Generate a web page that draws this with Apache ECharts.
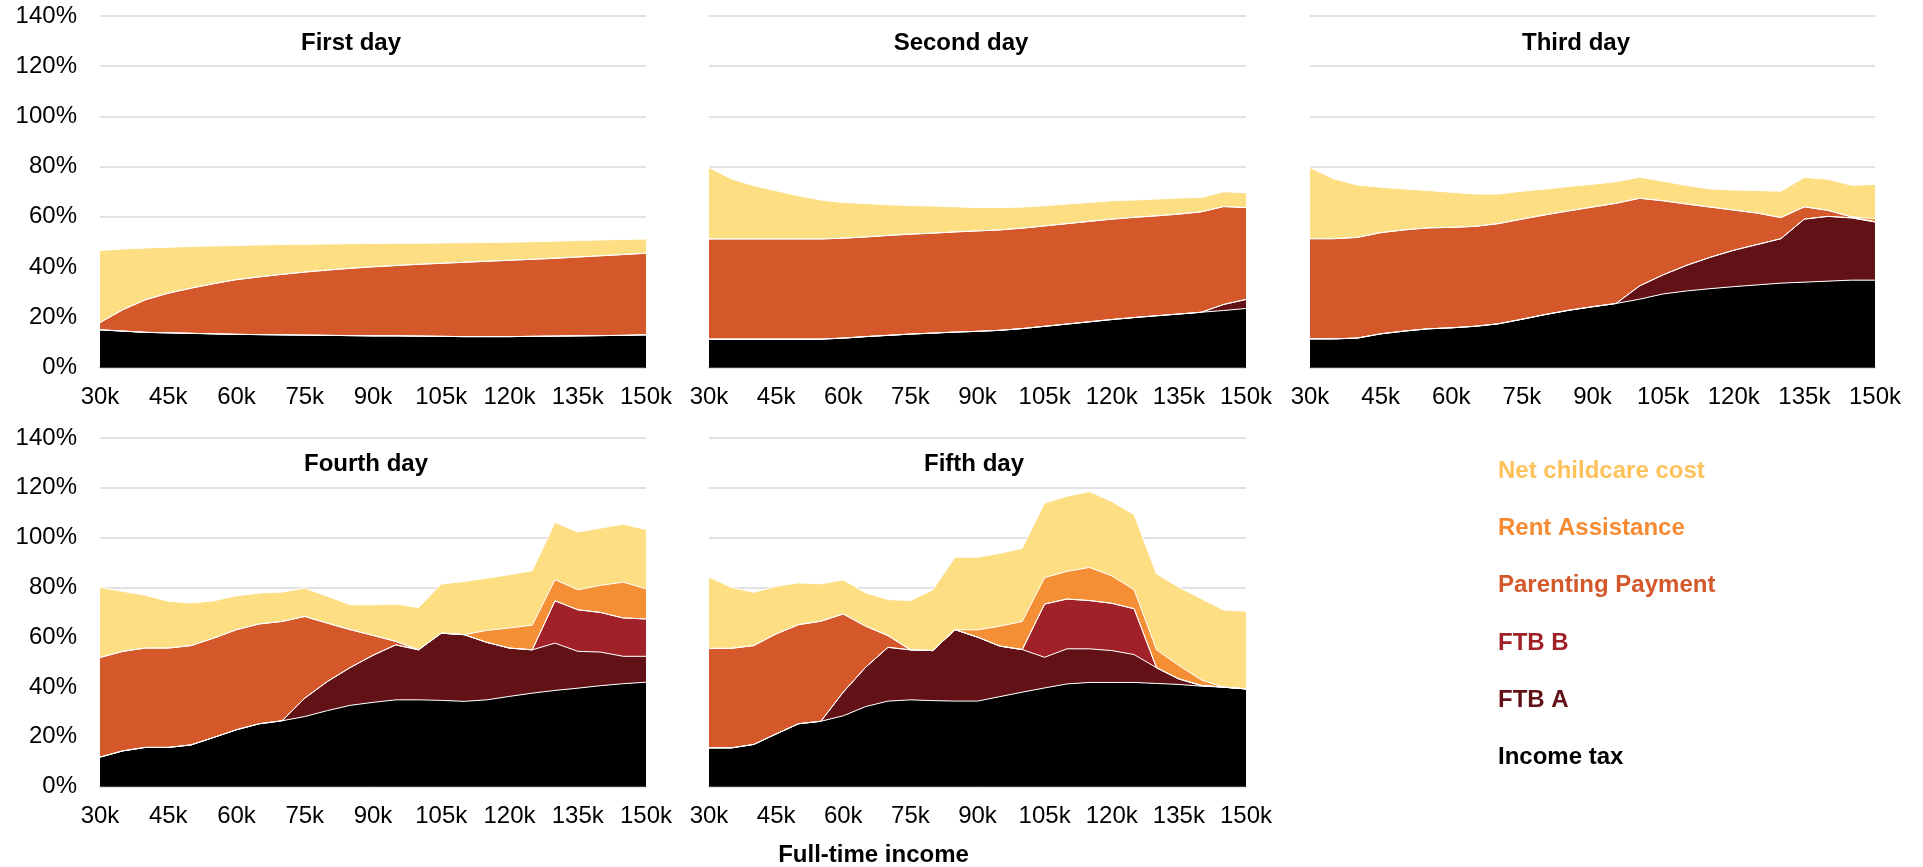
<!DOCTYPE html>
<html>
<head>
<meta charset="utf-8">
<script src="https://cdn.jsdelivr.net/npm/echarts@6/dist/echarts.min.js"></script>
<style>
html,body{margin:0;padding:0;background:#fff;}
#chart{width:1923px;height:867px;}
</style>
</head>
<body>
<div id="chart"></div>
<script>
// ---------- DATA ----------
const incomes = [30,35,40,45,50,55,60,65,70,75,80,85,90,95,100,105,110,115,120,125,130,135,140,145,150];
const panelTitles = ['First day','Second day','Third day','Fourth day','Fifth day'];
const seriesNames = ['Income tax','FTB A','FTB B','Parenting Payment','Rent Assistance','Net childcare cost'];
const legendOrder = ['Net childcare cost','Rent Assistance','Parenting Payment','FTB B','FTB A','Income tax'];
const yMin = 0, yMax = 140, yStep = 20;
const xAxisTitle = 'Full-time income';

// First day
const tax1  = [15,14.5,14,13.8,13.6,13.4,13.2,13.1,13,12.9,12.8,12.7,12.6,12.6,12.5,12.4,12.3,12.3,12.3,12.4,12.5,12.6,12.7,12.8,13];
const ftbA1 = [0,0,0,0,0,0,0,0,0,0,0,0,0,0,0,0,0,0,0,0,0,0,0,0,0];
const ftbB1 = [0,0,0,0,0,0,0,0,0,0,0,0,0,0,0,0,0,0,0,0,0,0,0,0,0];
const pp1   = [2.9,8.5,13,15.8,18,20,21.8,23,24.1,25.1,26,26.8,27.5,28,28.6,29.1,29.6,30,30.4,30.7,31,31.4,31.8,32.2,32.5];
const ra1   = [0,0,0,0,0,0,0,0,0,0,0,0,0,0,0,0,0,0,0,0,0,0,0,0,0];
const care1 = [28.7,24.2,20.6,18.3,16.6,15,13.6,12.7,11.9,11.1,10.4,9.8,9.3,8.9,8.4,8.1,7.8,7.5,7.2,7,6.8,6.6,6.3,6,5.7];

// Second day
const tax2  = [11.3,11.3,11.3,11.3,11.3,11.3,11.7,12.3,12.8,13.3,13.7,14.1,14.4,14.8,15.5,16.4,17.3,18.2,19.1,19.9,20.6,21.3,22,22.7,23.5];
const ftbA2 = [0,0,0,0,0,0,0,0,0,0,0,0,0,0,0,0,0,0,0,0,0,0,0,2.4,3.6];
const ftbB2 = [0,0,0,0,0,0,0,0,0,0,0,0,0,0,0,0,0,0,0,0,0,0,0,0,0];
const pp2   = [39.9,39.9,39.9,39.9,39.9,39.9,39.8,39.7,39.8,39.8,39.8,39.9,40,40,40,40,40,40,40,39.9,39.8,39.8,40,39,36.6];
const ra2   = [0,0,0,0,0,0,0,0,0,0,0,0,0,0,0,0,0,0,0,0,0,0,0,0,0];
const care2 = [28.5,23.9,21.2,19.2,17.2,15.5,14.2,13.3,12.2,11.4,10.8,10,9.3,8.9,8.4,8,7.8,7.5,7.3,6.9,6.7,6.4,5.7,5.9,5.9];

// Third day
const tax3  = [11.4,11.4,11.7,13.4,14.5,15.4,15.8,16.4,17.4,19.2,21.1,22.8,24.2,25.5,27.2,29.3,30.5,31.4,32.2,32.9,33.6,34,34.4,34.8,34.8];
const ftbA3 = [0,0,0,0,0,0,0,0,0,0,0,0,0,0,5.3,7.6,10.2,12.5,14.5,16.1,17.7,25.1,25.8,24.8,23.2];
const ftbB3 = [0,0,0,0,0,0,0,0,0,0,0,0,0,0,0,0,0,0,0,0,0,0,0,0,0];
const pp3   = [39.9,39.9,40.1,40.3,40.3,40.2,40,39.8,39.9,39.9,39.7,39.6,39.7,39.9,34.9,29.5,24.4,20,16,12.5,8.4,4.9,2.4,0.4,0];
const ra3   = [0,0,0,0,0,0,0,0,0,0,0,0,0,0,0,0,0,0,0,0,0,0,0,0,1.3];
const care3 = [28.3,23.9,20.9,18.1,16.3,14.9,14,12.9,11.8,11.1,10.3,9.7,9.1,8.6,8.4,7.8,7.4,7.2,8,9,10.5,11.7,12.4,12.6,13.6];

// Fourth day
const tax4  = [11.8,14.3,15.7,15.7,16.7,19.7,22.8,25.2,26.4,28.1,30.5,32.6,33.8,34.8,34.8,34.6,34.2,34.8,36.2,37.5,38.6,39.5,40.5,41.3,41.9];
const ftbA4 = [0,0,0,0,0,0,0,0,0,7.4,11.7,15.2,18.9,22.1,20.1,27,26.8,23.1,19.4,17.4,19,14.8,13.5,11,10.4];
const ftbB4 = [0,0,0,0,0,0,0,0,0,0,0,0,0,0,0,0,0,0,0,0,17,16.7,15.9,15.4,15];
const pp4   = [40,40,39.9,39.9,39.9,39.9,40.2,40.1,39.9,32.8,23.4,15.2,8,1.4,0,0,0,0,0,0,0,0,0,0,0];
const ra4   = [0,0,0,0,0,0,0,0,0,0,0,0,0,0,0,0,0,4.8,8.1,9.9,8.5,8,10.9,14.4,12.1];
const care4 = [28.2,24.1,21.2,18.8,17.1,15,13.6,12.4,11.8,11.4,10.8,10,12.3,15,17,19.7,21.4,21,21.4,21.9,23,23.2,23,23.3,23.8];

// Fifth day
const tax5  = [15.5,15.5,16.9,21.1,25.2,26.2,28.4,32.1,34.3,34.8,34.5,34.3,34.3,36.1,37.9,39.6,41.2,41.8,41.8,41.8,41.4,41,40.3,39.9,39.2];
const ftbA5 = [0,0,0,0,0,0,9.5,15.8,21.6,20.1,20.1,28.7,25.7,20.3,17.1,12.3,14.1,13.5,12.8,11.2,6.3,2.2,0.3,0,0];
const ftbB5 = [0,0,0,0,0,0,0,0,0,0,0,0,0,0,0,21.4,20,19.4,19,18.4,0,0,0,0,0];
const pp5   = [40,40,39.7,40.2,39.8,40.2,31.4,16.5,4.7,0,0,0,0,0,0,0,0,0,0,0,0,0,0,0,0];
const ra5   = [0,0,0,0,0,0,0,0,0,0,0,0,2.9,8,11.3,10.6,11.1,13.3,11,7.6,7.2,5.4,2.2,0,0];
const care5 = [28.6,24.5,21.4,19.1,16.8,15,13.7,13.4,14.5,19.8,24.4,29.1,29.2,29.3,29.4,30,30.2,30.5,29.9,30.2,30.5,31.4,32.6,31,31.2];

const panelData = [
  [tax1, ftbA1, ftbB1, pp1, ra1, care1],
  [tax2, ftbA2, ftbB2, pp2, ra2, care2],
  [tax3, ftbA3, ftbB3, pp3, ra3, care3],
  [tax4, ftbA4, ftbB4, pp4, ra4, care4],
  [tax5, ftbA5, ftbB5, pp5, ra5, care5]
];

// ---------- STYLE / LAYOUT ----------
const FONT = '"Liberation Sans", Arial, Helvetica, sans-serif';
const areaColors = {
  'Income tax': '#000000',
  'FTB A': '#621217',
  'FTB B': '#A02228',
  'Parenting Payment': '#D4582A',
  'Rent Assistance': '#F58F35',
  'Net childcare cost': '#FDDE82'
};
const legendColors = {
  'Net childcare cost': '#FFC15A',
  'Rent Assistance': '#F68B33',
  'Parenting Payment': '#D4582A',
  'FTB B': '#A02228',
  'FTB A': '#621217',
  'Income tax': '#000000'
};
const grids = [
  {left: 100,  top: 16,  width: 546, height: 351.5},
  {left: 709,  top: 16,  width: 537, height: 351.5},
  {left: 1310, top: 16,  width: 565, height: 351.5},
  {left: 100,  top: 438, width: 546, height: 348.5},
  {left: 709,  top: 438, width: 537, height: 348.5}
];
const titlePos = [[351, 43.5], [961, 43.5], [1576, 43.5], [366, 464.5], [974, 464.5]];
const showYLabels = [true, false, false, true, false];

const xAxes = grids.map((g, i) => ({
  type: 'category',
  gridIndex: i,
  data: incomes,
  boundaryGap: false,
  axisTick: {show: false},
  axisLine: {show: true, lineStyle: {color: '#7f7f7f', width: 1}},
  axisLabel: {
    interval: 2,
    formatter: v => v + 'k',
    fontFamily: FONT, fontSize: 24, color: '#000', margin: 18
  },
  splitLine: {show: false}
}));
const yAxes = grids.map((g, i) => ({
  type: 'value',
  gridIndex: i,
  min: yMin, max: yMax, interval: yStep,
  axisLine: {show: false},
  axisTick: {show: false},
  axisLabel: {
    show: showYLabels[i],
    formatter: '{value}%',
    fontFamily: FONT, fontSize: 24, color: '#000', margin: 23
  },
  splitLine: {show: true, lineStyle: {color: '#D9D9D9', width: 1.5}}
}));

const series = [];
panelData.forEach((arrs, p) => {
  arrs.forEach((vals, k) => {
    const name = seriesNames[k];
    series.push({
      type: 'line',
      name: name,
      xAxisIndex: p,
      yAxisIndex: p,
      stack: 'panel' + p,
      data: vals,
      symbol: 'none',
      smooth: false,
      lineStyle: {color: '#ffffff', width: 1},
      itemStyle: {color: areaColors[name]},
      areaStyle: {color: areaColors[name], opacity: 1},
      emphasis: {disabled: true},
      silent: true
    });
  });
});

const graphics = panelTitles.map((t, i) => ({
  type: 'text',
  x: titlePos[i][0], y: titlePos[i][1],
  style: {
    text: t, align: 'center', verticalAlign: 'middle',
    font: 'bold 24px ' + FONT, fill: '#000'
  }
}));
graphics.push({
  type: 'text', x: 873.5, y: 855,
  style: {text: xAxisTitle, align: 'center', verticalAlign: 'middle', font: 'bold 24px ' + FONT, fill: '#000'}
});

const option = {
  animation: false,
  backgroundColor: '#ffffff',
  grid: grids.map(g => Object.assign({containLabel: false}, g)),
  xAxis: xAxes,
  yAxis: yAxes,
  legend: {
    orient: 'vertical',
    left: 1488, top: 454,
    itemWidth: 0, itemHeight: 0,
    itemGap: 33.3,
    selectedMode: false,
    icon: 'rect',
    data: legendOrder.map(n => ({
      name: n,
      textStyle: {color: legendColors[n], fontFamily: FONT, fontSize: 24, fontWeight: 'bold'}
    }))
  },
  graphic: graphics,
  series: series
};

const chart = echarts.init(document.getElementById('chart'), null, {renderer: 'canvas'});
chart.setOption(option);
</script>
</body>
</html>
